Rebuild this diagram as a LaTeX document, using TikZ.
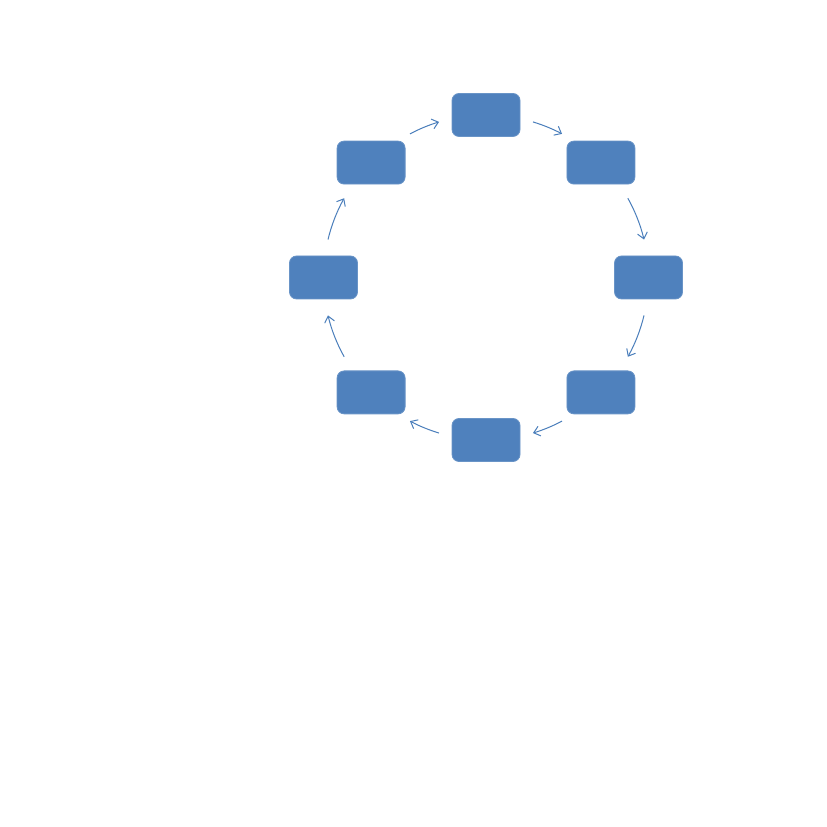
\documentclass[tikz,border=0pt]{standalone}
\usetikzlibrary{arrows.meta,calc}
\definecolor{boxblue}{HTML}{4F81BD}
\definecolor{arrblue}{HTML}{4A7EBB}
\tikzset{
  cyclebox/.style={draw=boxblue!85!white, line width=0.8pt, fill=boxblue, rounded corners=7pt,
    minimum width=68pt, minimum height=43pt, inner sep=0pt},
  cyclearrow/.style={draw=arrblue, line width=1pt, -{Straight Barb[length=6pt,width=10pt]}}
}
\begin{document}
\begin{tikzpicture}[x=1pt,y=1pt]
\useasboundingbox (0,0) rectangle (827,827);
\coordinate (c) at (486,549.5);
\def\R{162.5}
\node[cyclebox] (n0) at ($(c)+(90:\R)$) {};
\node[cyclebox] (n1) at ($(c)+(45:\R)$) {};
\node[cyclebox] (n2) at ($(c)+(0:\R)$) {};
\node[cyclebox] (n3) at ($(c)+(-45:\R)$) {};
\node[cyclebox] (n4) at ($(c)+(-90:\R)$) {};
\node[cyclebox] (n5) at ($(c)+(-135:\R)$) {};
\node[cyclebox] (n6) at ($(c)+(180:\R)$) {};
\node[cyclebox] (n7) at ($(c)+(135:\R)$) {};
\foreach \i/\s/\e in {1/73.2/62.1, 2/29.2/13.5, 3/-13.5/-29.2, 4/-62.1/-73.2,
                      5/-106.8/-117.9, 6/-150.8/-166.5, 7/166.5/150.8, 8/117.9/106.8}{
  \coordinate (a\i) at ($(c)+(\s:\R)$);
  \draw[cyclearrow] (a\i) arc[start angle=\s, end angle=\e, radius=\R];
}
\end{tikzpicture}
\end{document}
